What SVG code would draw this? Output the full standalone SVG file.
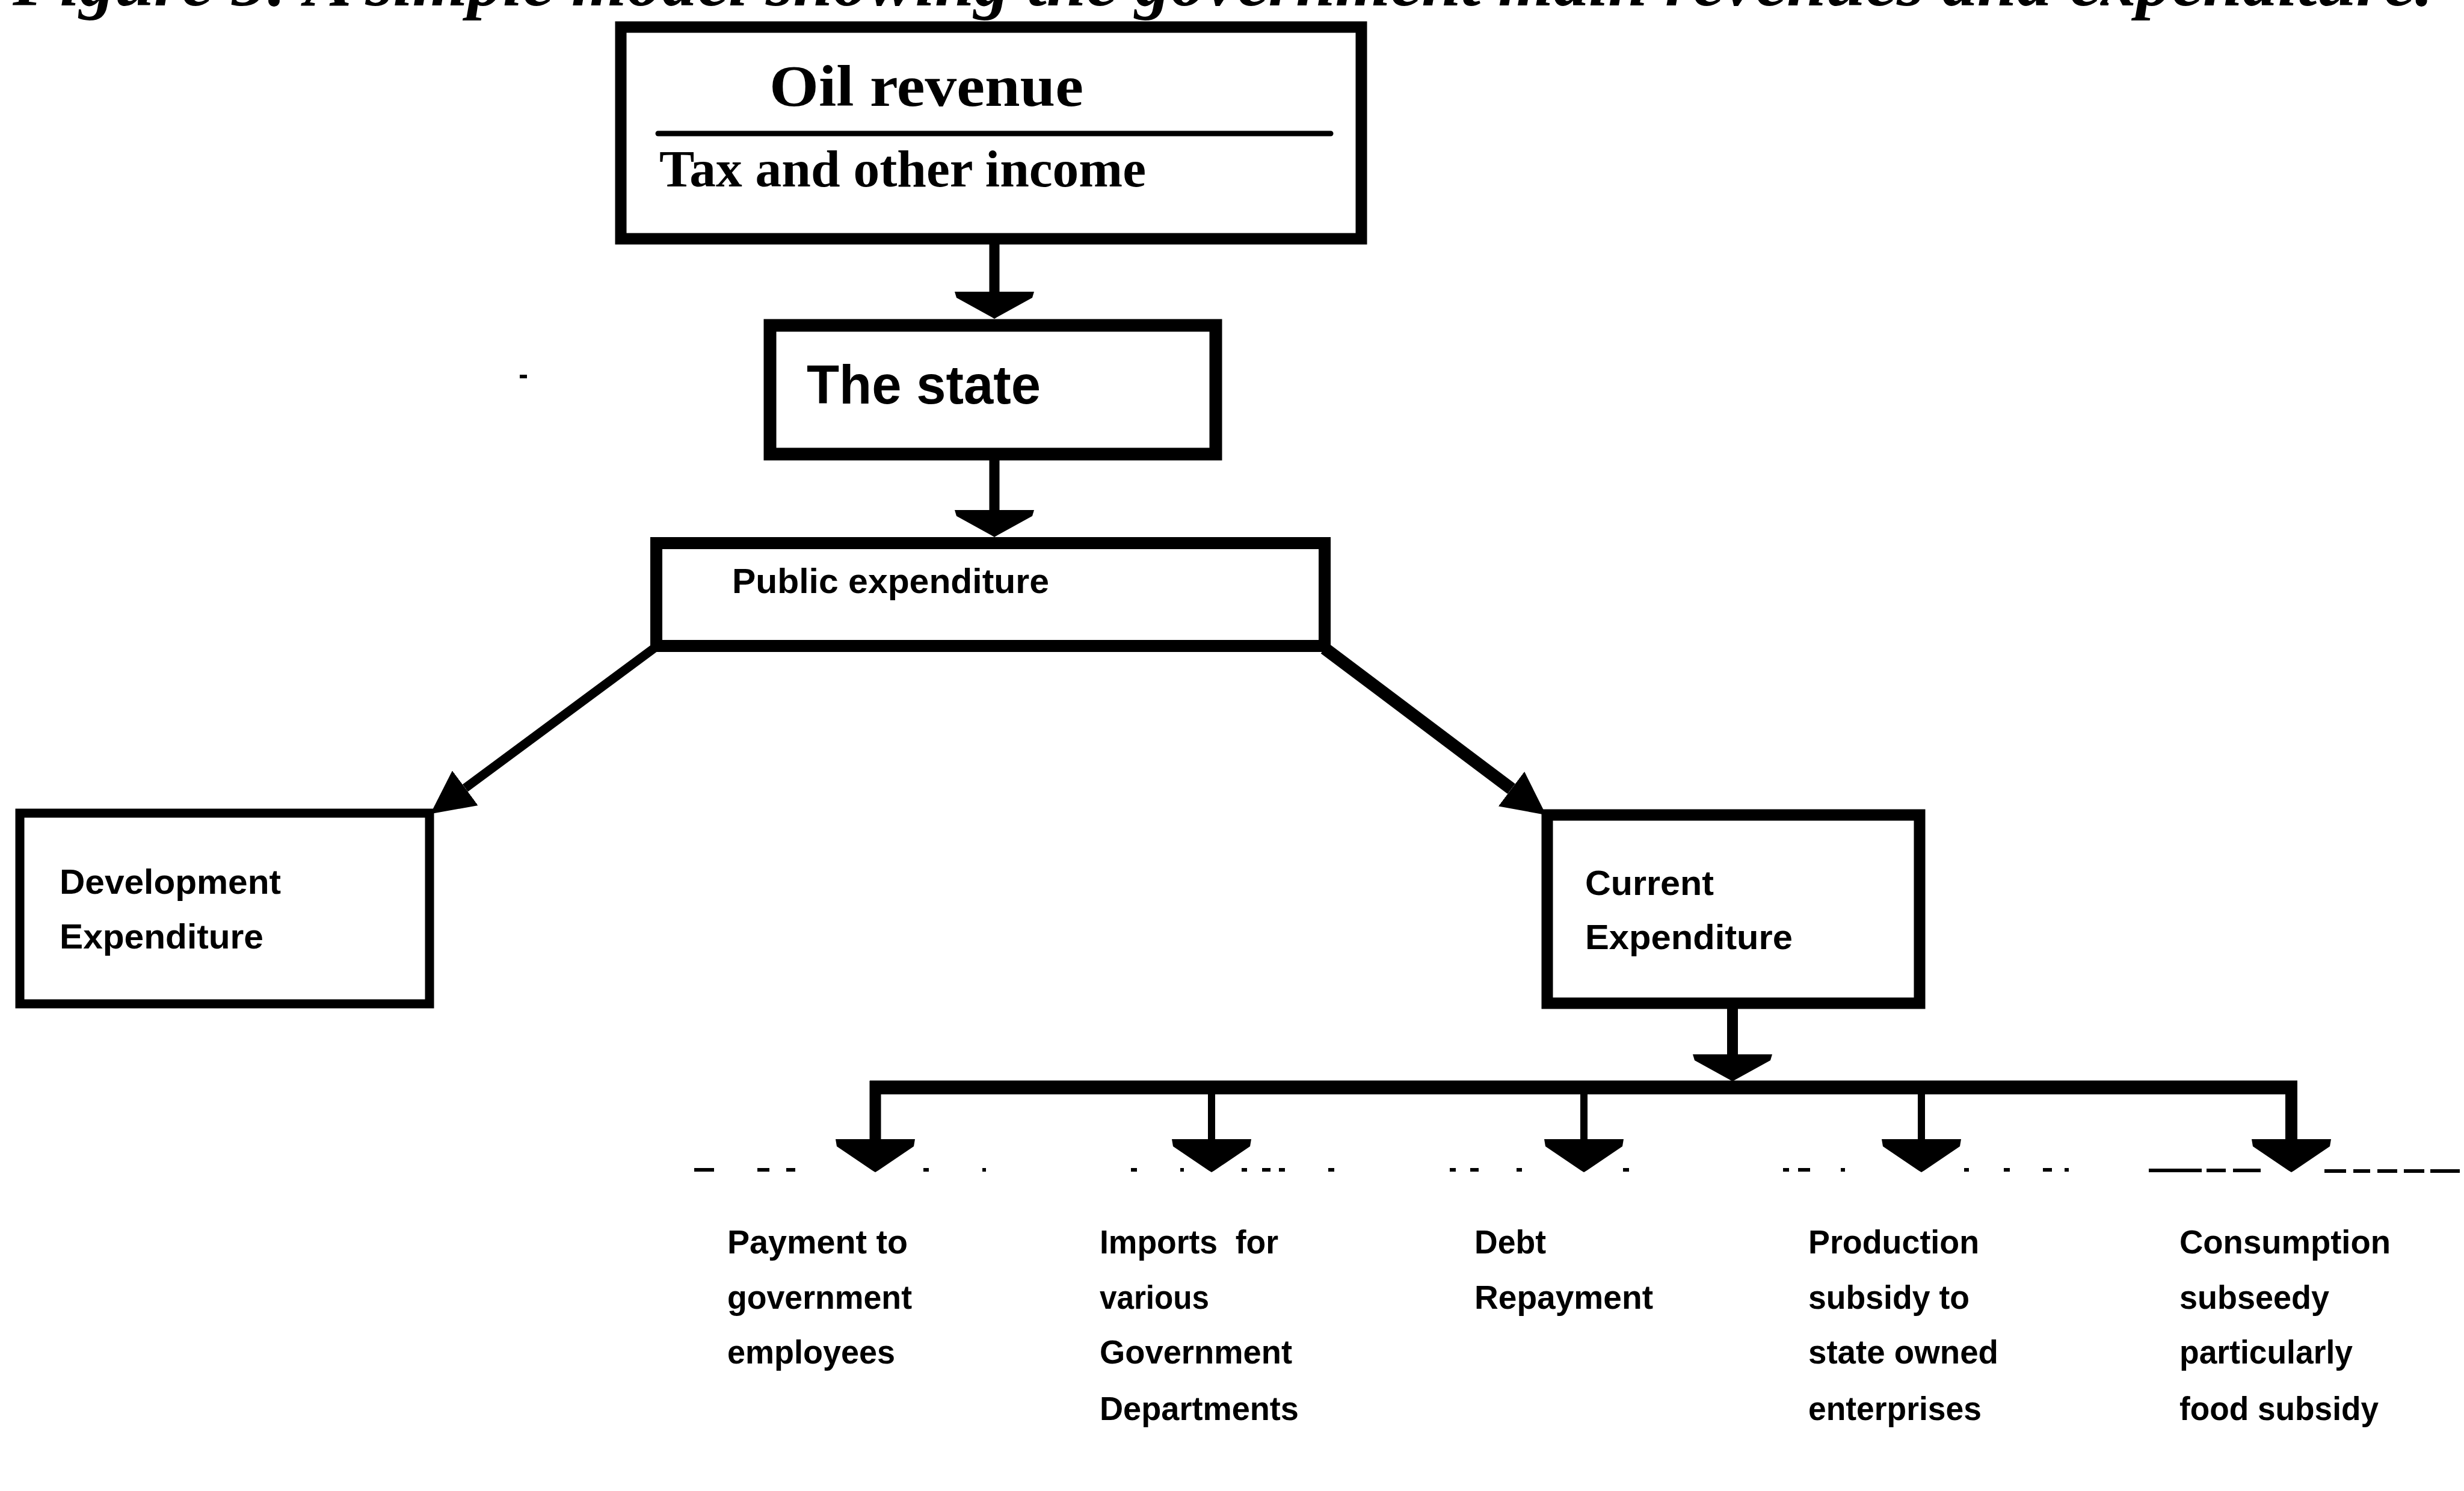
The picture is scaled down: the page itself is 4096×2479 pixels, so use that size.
<svg xmlns="http://www.w3.org/2000/svg" width="4096" height="2479" viewBox="0 0 4096 2479">
  <style>
    .box { fill: #fff; stroke: #000; }
    .serif { font-family: "Liberation Serif", "Times New Roman", serif; font-weight: bold; fill: #000; }
    .sans { font-family: "Liberation Sans", Arial, sans-serif; font-weight: bold; fill: #000; }
    .label { font-family: "Liberation Sans", Arial, sans-serif; font-weight: bold; font-size: 56px; fill: #000; }
    .conn { stroke: #000; fill: none; stroke-linecap: butt; }
    .marks { stroke: #000; stroke-width: 6; fill: none; }
  </style>
  <defs>
    <!-- flat-backed arrowhead for the short vertical links -->
    <marker id="vh" viewBox="0 -66 45 132" markerWidth="45" markerHeight="132" refX="0" refY="0" orient="auto" markerUnits="userSpaceOnUse">
      <path d="M0,-66 L10,-63 L42,-5 L45,0 L42,5 L10,63 L0,66 Z" fill="#000"/>
    </marker>
    <!-- slightly longer arrowhead for the branches off the bus -->
    <marker id="bh" viewBox="0 -66 55 132" markerWidth="55" markerHeight="132" refX="0" refY="0" orient="auto" markerUnits="userSpaceOnUse">
      <path d="M0,-66 L12,-64 L52,-5 L55,0 L52,5 L12,64 L0,66 Z" fill="#000"/>
    </marker>
    <!-- triangular arrowhead for the diagonal links -->
    <marker id="dh" viewBox="0 -36 72 72" markerWidth="72" markerHeight="72" refX="0" refY="0" orient="auto" markerUnits="userSpaceOnUse">
      <path d="M0,-36 L72,0 L0,36 Z" fill="#000"/>
    </marker>
  </defs>

  <rect x="0" y="0" width="4096" height="2479" fill="#fff"/>

  <!-- caption, clipped by the top edge -->
  <text id="title" class="serif" x="21" y="9" font-size="117" font-style="italic" textLength="4023" lengthAdjust="spacingAndGlyphs">Figure 5: A simple model showing the government main revenues and expenditure.</text>

  <g id="node-oil-revenue">
    <rect class="box" x="1032" y="45" width="1231" height="352" stroke-width="19"/>
    <line x1="1094" y1="222" x2="2212" y2="222" stroke="#000" stroke-width="9" stroke-linecap="round"/>
    <text class="serif" x="1279" y="176" font-size="98" textLength="522" lengthAdjust="spacingAndGlyphs">Oil revenue</text>
    <text class="serif" x="1096" y="310" font-size="86" textLength="809" lengthAdjust="spacingAndGlyphs">Tax and other income</text>
  </g>

  <g id="node-state">
    <rect class="box" x="1280" y="541" width="741" height="214" stroke-width="21"/>
    <text class="sans" x="1341" y="671" font-size="90" textLength="389" lengthAdjust="spacingAndGlyphs">The state</text>
  </g>

  <g id="node-public-expenditure">
    <rect class="box" x="1091" y="903" width="1111" height="171" stroke-width="20"/>
    <text class="sans" x="1217" y="986" font-size="58" textLength="527" lengthAdjust="spacingAndGlyphs">Public expenditure</text>
  </g>

  <g id="node-development-expenditure">
    <rect class="box" x="33" y="1352" width="681" height="317" stroke-width="15"/>
    <text class="sans" x="99" y="1486" font-size="58" textLength="368" lengthAdjust="spacingAndGlyphs">Development</text>
    <text class="sans" x="99" y="1577" font-size="58" textLength="339" lengthAdjust="spacingAndGlyphs">Expenditure</text>
  </g>

  <g id="node-current-expenditure">
    <rect class="box" x="2572" y="1355" width="619" height="313" stroke-width="19"/>
    <text class="sans" x="2635" y="1488" font-size="58" textLength="214" lengthAdjust="spacingAndGlyphs">Current</text>
    <text class="sans" x="2635" y="1578" font-size="58" textLength="345" lengthAdjust="spacingAndGlyphs">Expenditure</text>
  </g>

  <g id="node-payment">
    <text class="label" x="1209" y="2084" textLength="300" lengthAdjust="spacingAndGlyphs">Payment to</text>
    <text class="label" x="1209" y="2176" textLength="307" lengthAdjust="spacingAndGlyphs">government</text>
    <text class="label" x="1209" y="2267" textLength="279" lengthAdjust="spacingAndGlyphs">employees</text>
  </g>

  <g id="node-imports">
    <text class="label" x="1828" y="2084" xml:space="preserve" style="white-space:pre" textLength="297" lengthAdjust="spacingAndGlyphs">Imports  for</text>
    <text class="label" x="1828" y="2176" textLength="182" lengthAdjust="spacingAndGlyphs">various</text>
    <text class="label" x="1828" y="2267" textLength="320" lengthAdjust="spacingAndGlyphs">Government</text>
    <text class="label" x="1828" y="2361" textLength="331" lengthAdjust="spacingAndGlyphs">Departments</text>
  </g>

  <g id="node-debt">
    <text class="label" x="2451" y="2084" textLength="119" lengthAdjust="spacingAndGlyphs">Debt</text>
    <text class="label" x="2451" y="2176" textLength="297" lengthAdjust="spacingAndGlyphs">Repayment</text>
  </g>

  <g id="node-production">
    <text class="label" x="3006" y="2084" textLength="284" lengthAdjust="spacingAndGlyphs">Production</text>
    <text class="label" x="3006" y="2176" textLength="268" lengthAdjust="spacingAndGlyphs">subsidy to</text>
    <text class="label" x="3006" y="2267" textLength="316" lengthAdjust="spacingAndGlyphs">state owned</text>
    <text class="label" x="3006" y="2361" textLength="288" lengthAdjust="spacingAndGlyphs">enterprises</text>
  </g>

  <g id="node-consumption">
    <text class="label" x="3623" y="2084" textLength="351" lengthAdjust="spacingAndGlyphs">Consumption</text>
    <text class="label" x="3623" y="2176" textLength="249" lengthAdjust="spacingAndGlyphs">subseedy</text>
    <text class="label" x="3623" y="2267" textLength="288" lengthAdjust="spacingAndGlyphs">particularly</text>
    <text class="label" x="3623" y="2361" textLength="331" lengthAdjust="spacingAndGlyphs">food subsidy</text>
  </g>

  <g id="connectors">
    <!-- revenue -> state -> public expenditure -->
    <path class="conn" d="M1653,402 V485" stroke-width="17" marker-end="url(#vh)"/>
    <path class="conn" d="M1653,760 V848" stroke-width="17" marker-end="url(#vh)"/>
    <!-- split into development and current expenditure -->
    <path class="conn" d="M1087,1078 L773.3,1310.3" stroke-width="15" marker-end="url(#dh)"/>
    <path class="conn" d="M2202,1078 L2512.5,1311.7" stroke-width="21" marker-end="url(#dh)"/>
    <!-- current expenditure onto the distribution bus -->
    <path class="conn" d="M2880,1675 V1753" stroke-width="18" marker-end="url(#vh)"/>
    <line x1="1446" y1="1808" x2="3819" y2="1808" stroke="#000" stroke-width="23"/>
    <!-- branches to the five spending items -->
    <path class="conn" d="M1455,1797 V1894" stroke-width="19" marker-end="url(#bh)"/>
    <path class="conn" d="M2014,1808 V1894" stroke-width="12" marker-end="url(#bh)"/>
    <path class="conn" d="M2633,1808 V1894" stroke-width="12" marker-end="url(#bh)"/>
    <path class="conn" d="M3194,1808 V1894" stroke-width="12" marker-end="url(#bh)"/>
    <path class="conn" d="M3809,1797 V1894" stroke-width="20" marker-end="url(#bh)"/>
  </g>

  <!-- broken rule running under the arrow tips -->
  <path class="marks" d="M1154,1945 H1187 M1259,1945 H1279 M1307,1945 H1322 M1535,1945 H1544 M1633,1945 H1639 M1880,1945 H1890 M1962,1945 H1968 M2064,1945 H2073 M2098,1945 H2112 M2126,1945 H2136 M2208,1945 H2218 M2410,1945 H2420 M2444,1945 H2458 M2521,1945 H2530 M2698,1945 H2708 M2964,1945 H2974 M2989,1945 H3009 M3060,1945 H3067 M3265,1945 H3273 M3331,1945 H3341 M3396,1945 H3411 M3432,1945 H3439 M3572,1946 H3660 M3668,1946 H3700 M3712,1946 H3758 M3864,1947 H3900 M3912,1947 H3940 M3952,1947 H3985 M3996,1947 H4030 M4040,1947 H4089"/>
  <path class="marks" d="M864,626 H876" stroke-width="5"/>
</svg>
